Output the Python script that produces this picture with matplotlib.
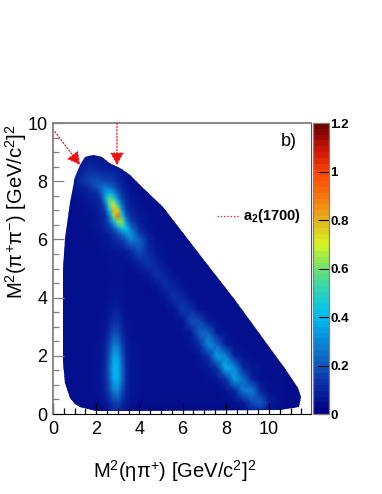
import numpy as np
import matplotlib
matplotlib.use('Agg')
import matplotlib.pyplot as plt
from matplotlib.cm import ScalarMappable
from matplotlib.colors import LinearSegmentedColormap, Normalize
from matplotlib.patches import Polygon

plt.rcParams['font.family'] = ['Liberation Sans', 'DejaVu Sans']
plt.rcParams['mathtext.fontset'] = 'custom'
plt.rcParams['mathtext.rm'] = 'Liberation Sans'
plt.rcParams['mathtext.bf'] = 'Liberation Sans:bold'
plt.rcParams['mathtext.it'] = 'Liberation Serif:italic'

# density, in hundredths
x_nodes = [0.4, 1.0, 1.6, 2.0, 2.2, 2.4, 2.6, 2.8, 3.0, 3.2, 3.4, 3.6, 4.0, 4.4, 4.8,
           5.2, 5.6, 6.0, 6.4, 6.8, 7.2, 7.6, 8.0, 8.4, 8.8, 9.2, 9.6, 10.0, 10.6, 11.6]
y_nodes = [0, 0.4, 0.8, 1.2, 1.6, 2.0, 2.4, 2.8, 3.2, 3.6, 4.0, 4.4, 4.8, 5.2, 5.6,
           6.0, 6.2, 6.4, 6.6, 6.8, 7.0, 7.2, 7.4, 7.6, 7.8, 8.0, 8.4, 9.0]
density = [
    [3,3,3,3,3,4,6,9,9,7,5,4,3,3,3,3,3,3,3,3,3,3,3,3,4,5,6,4,3,3],
    [4,4,4,4,5,6,9,14,15,11,7,5,4,4,4,4,4,4,4,4,4,4,4,5,7,16,22,8,4,3],
    [4,4,4,5,6,8,15,27,29,17,9,6,5,4,4,4,4,4,4,4,4,4,5,9,26,28,10,5,4,3],
    [4,4,4,5,7,10,19,36,38,23,10,6,5,4,4,4,4,4,4,4,5,6,12,34,24,9,5,4,4,3],
    [4,4,4,5,7,10,21,38,38,23,10,6,5,4,4,4,4,4,4,5,7,13,38,30,9,6,5,4,4,3],
    [4,4,4,5,6,9,19,34,34,20,9,6,5,4,4,4,4,4,4,6,12,34,28,8,5,4,4,4,4,3],
    [4,4,4,5,6,8,15,25,25,15,8,5,5,4,4,4,4,4,6,12,30,22,7,5,4,4,4,4,4,3],
    [4,4,4,4,5,6,11,17,17,10,6,5,4,4,4,4,4,5,7,22,22,7,5,4,4,4,4,4,4,3],
    [4,4,4,4,5,5,8,11,12,8,5,5,4,4,4,4,4,6,18,16,6,5,4,4,4,4,4,4,4,3],
    [4,4,4,4,4,5,6,8,8,6,5,4,4,4,4,4,6,14,11,5,4,4,4,4,4,4,4,4,4,3],
    [4,4,4,4,4,4,5,6,6,5,5,4,4,4,4,6,12,10,5,4,4,4,4,4,4,4,4,4,4,3],
    [4,4,4,4,4,4,5,5,5,5,4,4,4,4,6,11,9,5,4,4,4,4,4,4,4,4,4,4,4,3],
    [4,4,4,4,4,4,4,5,5,5,4,4,5,7,12,9,5,4,4,4,4,4,4,4,4,4,4,4,4,3],
    [4,4,4,4,4,4,5,5,5,5,5,6,9,13,9,5,4,4,4,4,4,4,4,4,4,4,4,4,4,3],
    [4,4,4,4,5,5,5,6,6,7,8,10,18,11,6,5,4,4,4,4,4,4,4,4,4,4,4,4,4,3],
    [4,4,4,5,5,6,7,9,12,14,20,28,22,9,5,4,4,4,4,4,4,4,4,4,4,4,4,4,4,3],
    [4,4,4,5,6,7,9,12,17,24,33,32,14,7,4,4,4,4,4,4,4,4,4,4,4,4,4,4,4,3],
    [4,4,5,6,7,9,12,20,32,48,42,24,10,6,4,4,4,4,4,4,4,4,4,4,4,4,4,4,4,3],
    [4,4,5,6,8,11,18,36,62,62,30,16,8,5,4,4,4,4,4,4,4,4,4,4,4,4,4,4,4,3],
    [4,4,5,6,8,10,24,60,90,48,20,11,7,5,4,4,4,4,4,4,4,4,4,4,4,4,4,4,4,3],
    [4,4,5,7,9,14,40,80,75,32,14,9,6,4,4,4,4,4,4,4,4,4,4,4,4,4,4,4,4,3],
    [4,4,6,8,10,20,55,72,48,22,11,8,5,4,4,4,4,4,4,4,4,4,4,4,4,4,4,4,4,3],
    [4,4,7,9,12,32,58,52,30,16,10,7,5,4,4,4,4,4,4,4,4,4,4,4,4,4,4,4,4,3],
    [4,5,8,11,18,30,38,32,20,12,8,6,4,4,4,4,4,4,4,4,4,4,4,4,4,4,4,4,4,3],
    [4,6,10,17,22,26,24,20,14,9,7,5,4,4,4,4,4,4,4,4,4,4,4,4,4,4,4,4,4,3],
    [4,7,15,19,18,16,15,14,11,8,6,5,4,4,4,4,4,4,4,4,4,4,4,4,4,4,4,4,4,3],
    [4,6,11,10,9,8,8,8,7,6,5,4,4,4,4,4,4,4,4,4,4,4,4,4,4,4,4,4,4,3],
    [4,4,4,4,4,4,4,4,4,4,4,4,4,4,4,4,4,4,4,4,4,4,4,4,4,4,4,4,4,3],
]

# edge of the allowed region
edge_x = [0.48, 0.48, 0.56, 0.79, 1.02, 1.25, 1.48, 1.86, 2.26, 2.53, 2.7, 3.1, 3.56, 4.17, 5.1,
          6.8, 8.43, 10.8, 11.35, 11.48, 11.4, 10.5, 3.5, 2.0, 1.25, 1.0, 0.79, 0.56]
edge_y = [1.8, 5.0, 6.0, 7.25, 8.15, 8.56, 8.83, 8.9, 8.84, 8.67, 8.6, 8.45, 8.2, 7.75, 7.1,
          5.46, 3.92, 1.5, 0.89, 0.58, 0.24, 0.14, 0.1, 0.1, 0.24, 0.36, 0.55, 1.07]

cbar_ticks = [0, 0.2, 0.4, 0.6, 0.8, 1, 1.2]
cbar_labels = ['0', '0.2', '0.4', '0.6', '0.8', '1', '1.2']
palette = ['#000082', '#0a28a0', '#0f5abe', '#0a8cdc', '#00bef0', '#28d2be', '#6ee16e',
           '#d7f523', '#e6b419', '#f5780f', '#ff4605', '#c81405', '#6e0000']

cmap = LinearSegmentedColormap.from_list('root', palette, N=256)
norm = Normalize(0, 1.2)
grey = '#808080'

fig = plt.figure(figsize=(3.82, 4.94), dpi=100)
ax = fig.add_axes([53 / 382, 80 / 494, 258 / 382, 291 / 494])

mesh = ax.pcolormesh(x_nodes, y_nodes, np.array(density) / 100, cmap=cmap, norm=norm,
                     shading='gouraud')
region = Polygon(np.column_stack([edge_x, edge_y]), closed=True, transform=ax.transData,
                 fill=False, edgecolor='none')
ax.add_patch(region)
mesh.set_clip_path(region)

ax.set_xlim(0, 11.94)
ax.set_ylim(0, 10)
ax.set_xticks([0, 2, 4, 6, 8, 10])
ax.set_yticks([0, 2, 4, 6, 8, 10])
ax.set_xticks(np.arange(0, 12, 0.5), minor=True)
ax.set_yticks(np.arange(0, 10, 0.5), minor=True)
ax.tick_params(axis='both', which='major', direction='in', length=8, width=0.9, labelsize=13)
ax.tick_params(axis='both', which='minor', direction='in', length=4, width=0.9)
ax.tick_params(axis='x', which='both', color='black', pad=5)
ax.tick_params(axis='y', which='both', color=grey, pad=4)
ax.spines['left'].set_color(grey)
ax.spines['top'].set_color(grey)
ax.spines['right'].set_color('#505050')
for s in ['left', 'top']:
    ax.spines[s].set_linewidth(1.3)

fig.text(175 / 382, 1 - 471 / 494, r'M$^{2}$($\mathrm{\eta\pi}^{+}$) [GeV/c$^{2}$]$^{2}$',
         fontsize=14.5, ha='center', va='center')
fig.text(16 / 382, 1 - 212 / 494, r'M$^{2}$($\mathrm{\pi}^{+}\mathrm{\pi}^{-}$) [GeV/c$^{2}$]$^{2}$',
         fontsize=14.5, rotation=90, ha='center', va='center')

ax.text(10.9, 9.35, 'b)', fontsize=13, ha='center', va='center')

red = '#f01010'
arrow = dict(arrowstyle='-|>,head_length=0.55,head_width=0.3', color=red, linestyle=':',
             linewidth=0.9, shrinkA=0, shrinkB=0, mutation_scale=14)
ax.annotate('', xy=(1.25, 8.56), xytext=(0.09, 9.7), arrowprops=arrow)
ax.annotate('', xy=(2.96, 8.55), xytext=(2.96, 10), arrowprops=arrow)
ax.plot([7.6, 8.62], [6.8, 6.8], color=red, ls=':', lw=0.9)
ax.text(8.8, 6.82, r'$\mathbf{a_{2}}$(1700)', fontsize=10.5, fontweight='bold', va='center')

cax = fig.add_axes([313 / 382, 80 / 494, 16 / 382, 291 / 494])
cbar = fig.colorbar(ScalarMappable(norm=norm, cmap=cmap.resampled(50)), cax=cax)
cbar.set_ticks(cbar_ticks, labels=cbar_labels)
cbar.ax.tick_params(direction='in', length=8, width=0.8, labelsize=9.5, pad=1)
for lab in cbar.ax.get_yticklabels():
    lab.set_fontweight('bold')
cbar.outline.set_edgecolor(grey)
cbar.outline.set_linewidth(0.9)

fig.savefig('out.png', dpi=100)
